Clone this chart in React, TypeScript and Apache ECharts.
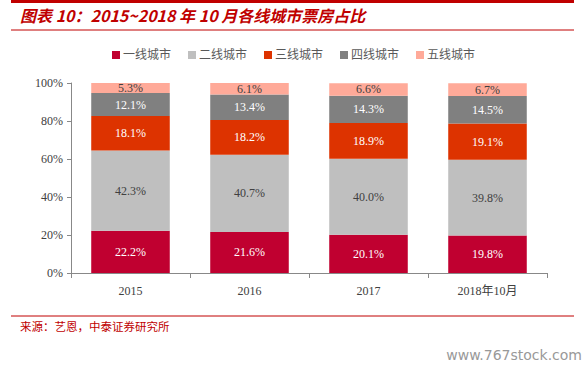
import React, { useEffect, useRef } from "react";
import * as echarts from "echarts";

const categories = ["2015", "2016", "2017", "2018年10月"];
const tier1 = [22.2, 21.6, 20.1, 19.8];
const tier2 = [42.3, 40.7, 40.0, 39.8];
const tier3 = [18.1, 18.2, 18.9, 19.1];
const tier4 = [12.1, 13.4, 14.3, 14.5];
const tier5 = [5.3, 6.1, 6.6, 6.7];
const seriesNames = ["一线城市", "二线城市", "三线城市", "四线城市", "五线城市"];
const seriesColors = ["#C00030", "#BFBFBF", "#DD3300", "#808080", "#FFAA99"];
const labelColors = ["#FFFFFF", "#404040", "#FFFFFF", "#FFFFFF", "#404040"];

const FONT = "'Liberation Serif', 'Noto Sans CJK SC', serif";

export default function App() {
  const ref = useRef<HTMLDivElement>(null);
  useEffect(() => {
    document.body.style.margin = "0";
    const chart = echarts.init(ref.current!, null, { renderer: "svg" });
    const data = [tier1, tier2, tier3, tier4, tier5];
    chart.setOption({
      animation: false,
      backgroundColor: "#FFFFFF",
      graphic: [
        { type: "rect", shape: { x: 11, y: 0, width: 563, height: 3 }, style: { fill: "#C00000" } },
        {
          type: "text",
          x: 20,
          y: 7,
          style: {
            text: "图表 10：2015~2018 年 10 月各线城市票房占比",
            fill: "#C00000",
            font: "italic bold 16px 'Noto Sans CJK SC', sans-serif",
          },
        },
        { type: "line", shape: { x1: 11, y1: 30, x2: 574, y2: 30 }, style: { stroke: "#C00000", lineWidth: 1 } },
        { type: "line", shape: { x1: 11, y1: 316, x2: 574, y2: 316 }, style: { stroke: "#C00000", lineWidth: 1 } },
        {
          type: "text",
          x: 20,
          y: 320,
          style: {
            text: "来源：艺恩，中泰证券研究所",
            fill: "#C00000",
            font: "11.5px 'Noto Sans CJK SC', sans-serif",
          },
        },
        {
          type: "text",
          x: 582,
          y: 348,
          style: {
            text: "www.767stock.com",
            fill: "#999999",
            align: "right",
            font: "14px 'DejaVu Sans', sans-serif",
          },
        },
      ],
      legend: {
        top: 44,
        left: "center",
        itemWidth: 8,
        itemHeight: 8,
        itemGap: 17,
        icon: "rect",
        textStyle: { color: "#595959", fontSize: 12, fontFamily: FONT, padding: [0, 0, 0, -2] },
        data: seriesNames,
      },
      grid: { left: 71, right: 40, top: 83, bottom: 92, containLabel: false },
      xAxis: {
        type: "category",
        data: categories,
        axisLine: { lineStyle: { color: "#888888" } },
        axisTick: { show: true, alignWithLabel: false, length: 5, lineStyle: { color: "#888888" } },
        axisLabel: { color: "#404040", fontSize: 12, fontFamily: FONT, margin: 12 },
      },
      yAxis: {
        type: "value",
        min: 0,
        max: 100,
        interval: 20,
        axisLine: { show: true, lineStyle: { color: "#888888" } },
        axisTick: { show: true, length: 4, lineStyle: { color: "#888888" } },
        splitLine: { show: false },
        axisLabel: { color: "#404040", fontSize: 12, fontFamily: FONT, formatter: "{value}%", margin: 8 },
      },
      series: seriesNames.map((name, i) => ({
        name,
        type: "bar",
        stack: "total",
        barWidth: "66%",
        data: data[i],
        itemStyle: { color: seriesColors[i] },
        label: {
          show: true,
          position: "inside",
          formatter: (p: any) => p.value.toFixed(1) + "%",
          color: labelColors[i],
          fontSize: 12,
          fontFamily: FONT,
        },
      })),
    });
    return () => chart.dispose();
  }, []);
  return <div ref={ref} style={{ width: 587, height: 365 }} />;
}
